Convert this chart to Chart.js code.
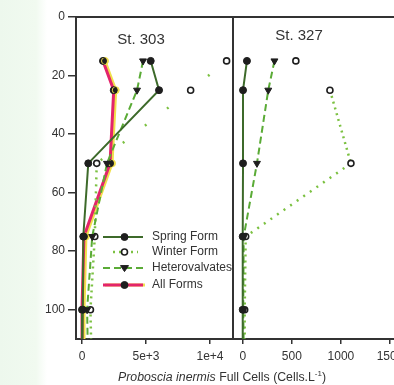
<!DOCTYPE html>
<html>
<head>
<meta charset="utf-8">
<script src="https://cdn.jsdelivr.net/npm/chart.js@4"></script>
<style>
  html, body { margin:0; padding:0; }
  body { width:394px; height:385px; overflow:hidden; position:relative;
         background: linear-gradient(to right, #edf8ed 0px, #f1faf0 36px, #ffffff 47px);
         font-family: "Liberation Sans", Arial, sans-serif; }
  canvas { position:absolute; top:0; }
  #xt { position:absolute; left:118px; top:369px; font-size:12.3px; color:#333; white-space:nowrap; }
  #xt sup { font-size:8px; }
</style>
</head>
<body>
<canvas id="c1" width="260" height="385" style="left:0"></canvas>
<canvas id="c2" width="210" height="385" style="left:226px"></canvas>
<div id="xt"><i>Proboscia inermis</i> Full Cells (Cells.L<sup>-1</sup>)</div>
<script>
// ---- data ----
const depths = [15, 25, 50, 75, 100, 125];
const seriesNames = ['Spring Form', 'Winter Form', 'Heterovalvates', 'All Forms'];
const stations = ['St. 303', 'St. 327'];

const spring303 = [5370, 6020, 490, 100, 60, 0];
const winter303 = [11300, 8490, 1150, 1000, 660, 780];
const hetero303 = [4770, 4300, 1950, 800, 400, 500];
const all303    = [1640, 2480, 2190, 150, 0, 0];

const spring327 = [43, 3, 3, 0, 0, 0];
const winter327 = [541, 888, 1102, 30, 20, 20];
const hetero327 = [323, 260, 145, 10, 5, 15];

const yTicks = [0, 20, 40, 60, 80, 100];
const xTicks303 = [0, 5000, 10000];
const xLabels303 = ['0', '5e+3', '1e+4'];
const xTicks327 = [0, 500, 1000, 1500];
const xLabels327 = ['0', '500', '1000', '1500'];

// ---- styles ----
const FONT = '"Liberation Sans", Arial, sans-serif';
const AX = '#333333';
const C_SPRING = '#3d6a2a', C_WINTER = '#7cc142', C_HETERO = '#5aab36', C_ALL = '#e3246b', C_YEL = '#f1e04c';
// faded look of the dotted line per segment in the printed figure
const winterDash303 = [[2,20],[2,26],[2,5],[2,4],[2,4]];
const winterDash327 = [null,[2,4],[2,6],[2,4],[2,4]];

function pts(vals){ return depths.map((d,i)=>({x: vals[i], y: d})); }

function springDs(vals){ return { label: seriesNames[0], data: pts(vals), showLine:true,
  borderColor: C_SPRING, borderWidth: 2, pointRadius: 3.5, pointBackgroundColor:'#1e1e1e',
  pointBorderColor:'#1e1e1e', pointBorderWidth:1, clip:0, kind:'spring' }; }
function winterDs(vals, dashes){ return { label: seriesNames[1], data: pts(vals), showLine:true,
  borderColor: C_WINTER, borderWidth: 2.5, borderDash:[2,4], borderCapStyle:'butt', pointRadius: 3,
  pointBackgroundColor:'#ffffff', pointBorderColor:'#1e1e1e', pointBorderWidth:1.6, clip:0, kind:'winter',
  segment:{
    borderColor: ctx => dashes[ctx.p0DataIndex] ? C_WINTER : 'rgba(0,0,0,0)',
    borderDash: ctx => dashes[ctx.p0DataIndex] || [2,4]
  } }; }
function heteroDs(vals){ return { label: seriesNames[2], data: pts(vals), showLine:true,
  borderColor: C_HETERO, borderWidth: 2, borderDash:[7,4], pointStyle:'triangle', rotation:180, pointRadius: 4,
  pointBackgroundColor:'#1e1e1e', pointBorderColor:'#1e1e1e', pointBorderWidth:1, clip:0, kind:'hetero' }; }
function allDs(vals){ return { label: seriesNames[3], data: pts(vals), showLine:true,
  borderColor: C_ALL, borderWidth: 3, pointRadius: 3.5, pointBackgroundColor:'#1e1e1e',
  pointBorderColor:'#1e1e1e', pointBorderWidth:1, clip:0, kind:'all' }; }

const shadowPlugin = {
  id:'shadow',
  beforeDatasetDraw(chart, args){
    const ds = chart.data.datasets[args.index];
    if (ds.kind === 'all'){ const c = chart.ctx; c.save(); c.shadowColor = C_YEL; c.shadowOffsetX = 2; c.shadowOffsetY = 0; c.shadowBlur = 0; }
  },
  afterDatasetDraw(chart, args){
    const ds = chart.data.datasets[args.index];
    if (ds.kind === 'all'){ chart.ctx.restore(); }
  }
};

function framePlugin(drawRight, station, stationDX, stationY){
  return {
    id:'frame',
    afterDraw(chart){
      const c = chart.ctx, a = chart.chartArea;
      c.save();
      c.strokeStyle = AX; c.lineWidth = 2;
      c.beginPath(); c.moveTo(a.left-1, a.top); c.lineTo(a.right+1, a.top); c.stroke();
      if (drawRight){ c.beginPath(); c.moveTo(a.right, a.top); c.lineTo(a.right, a.bottom+1); c.stroke(); }
      c.fillStyle = AX; c.font = '15px ' + FONT; c.textAlign = 'center'; c.textBaseline = 'middle';
      c.fillText(station, a.left + stationDX, stationY);
      c.restore();
    }
  };
}

const legendPlugin = {
  id:'customLegend',
  afterDraw(chart){
    const c = chart.ctx;
    const order = ['spring','winter','hetero','all'];
    const rows = [237, 252, 268, 285];
    c.save();
    order.forEach((k, i) => {
      const ds = chart.data.datasets.find(d => d.kind === k);
      const y = rows[i];
      const x0 = (k === 'winter') ? 113 : 103, x1 = (k === 'winter') ? 138 : 143, xm = 124.5;
      c.save();
      if (k === 'all'){ c.shadowColor = C_YEL; c.shadowOffsetX = 2; }
      c.strokeStyle = ds.borderColor; c.lineWidth = ds.borderWidth; c.lineCap = 'butt';
      c.setLineDash(ds.borderDash || []);
      c.beginPath(); c.moveTo(x0, y); c.lineTo(x1, y); c.stroke();
      c.restore();
      c.setLineDash([]);
      c.fillStyle = ds.pointBackgroundColor; c.strokeStyle = ds.pointBorderColor; c.lineWidth = ds.pointBorderWidth;
      if (k === 'hetero'){
        const r = 4;
        c.beginPath(); c.moveTo(xm - r, y - r*0.6); c.lineTo(xm + r, y - r*0.6); c.lineTo(xm, y + r*0.9); c.closePath();
        c.fill(); c.stroke();
      } else {
        c.beginPath(); c.arc(xm, y, ds.pointRadius, 0, Math.PI*2); c.fill(); c.stroke();
      }
      c.fillStyle = AX; c.font = '12px ' + FONT; c.textAlign = 'left'; c.textBaseline = 'middle';
      c.fillText(ds.label, 152, y);
    });
    c.restore();
  }
};

function xAxis(min, max, ticks, labels){
  return {
    type:'linear', position:'bottom', min, max,
    afterBuildTicks(s){ s.ticks = ticks.map(v => ({value:v})); },
    afterFit(s){ s.height = 46; },
    grid:{ drawOnChartArea:false, drawTicks:true, tickLength:5, color:AX, lineWidth:1.5 },
    border:{ display:true, color:AX, width:2 },
    ticks:{ color:AX, font:{ family:FONT, size:12 }, padding:5, maxRotation:0, autoSkip:false,
      callback(v){ const i = ticks.indexOf(v); return i >= 0 ? labels[i] : ''; } }
  };
}

Chart.defaults.animation = false;

new Chart(document.getElementById('c1'), {
  type:'scatter',
  data:{ datasets:[ springDs(spring303), heteroDs(hetero303), winterDs(winter303, winterDash303), allDs(all303) ] },
  options:{
    responsive:false, devicePixelRatio:1, animation:false,
    layout:{ padding:{ top:17, right:27, left:0, bottom:0 } },
    plugins:{ legend:{display:false}, tooltip:{enabled:false} },
    scales:{
      x: xAxis(-469, 11800, xTicks303, xLabels303),
      y:{ type:'linear', position:'left', reverse:true, min:0, max:110,
        afterBuildTicks(s){ s.ticks = yTicks.map(v => ({value:v})); },
        afterFit(s){ s.width = 76; },
        grid:{ drawOnChartArea:false, drawTicks:true, tickLength:8, color:AX, lineWidth:1.5 },
        border:{ display:true, color:AX, width:2 },
        ticks:{ color:AX, font:{ family:FONT, size:12 }, padding:3 } }
    }
  },
  plugins:[shadowPlugin, framePlugin(true, stations[0], 65, 40), legendPlugin]
});

new Chart(document.getElementById('c2'), {
  type:'scatter',
  data:{ datasets:[ springDs(spring327), heteroDs(hetero327), winterDs(winter327, winterDash327) ] },
  options:{
    responsive:false, devicePixelRatio:1, animation:false,
    layout:{ padding:{ top:17, right:0, left:7, bottom:0 } },
    plugins:{ legend:{display:false}, tooltip:{enabled:false} },
    scales:{
      x: xAxis(-99, 1911, xTicks327, xLabels327),
      y:{ type:'linear', display:false, reverse:true, min:0, max:110 }
    }
  },
  plugins:[framePlugin(false, stations[1], 66, 36)]
});
</script>
</body>
</html>
